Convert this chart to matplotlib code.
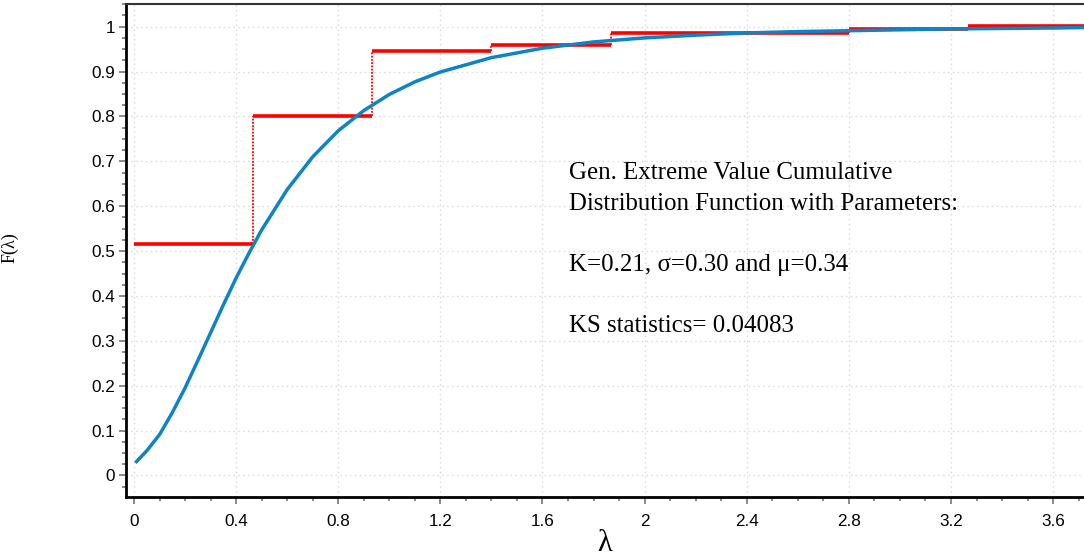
import matplotlib
matplotlib.use("Agg")
import matplotlib.pyplot as plt
from matplotlib.ticker import MultipleLocator, FuncFormatter

# histogram-style empirical CDF (red steps)
bin_edges = [0.0, 0.467, 0.933, 1.400, 1.867, 2.333, 2.800, 3.267, 3.733]
emp_cdf = [0.515, 0.800, 0.945, 0.960, 0.986, 0.985, 0.994, 1.001]

# fitted GEV CDF (blue)
lam = [0.01, 0.05, 0.10, 0.15, 0.20, 0.25, 0.30, 0.35, 0.40, 0.45, 0.50,
       0.60, 0.70, 0.80, 0.90, 1.00, 1.10, 1.20, 1.40, 1.60, 1.80, 2.00,
       2.20, 2.40, 2.60, 2.80, 3.00, 3.20, 3.40, 3.60, 3.72]
gev_cdf = [0.031, 0.055, 0.091, 0.140, 0.195, 0.256, 0.318, 0.380, 0.440,
           0.495, 0.547, 0.637, 0.710, 0.768, 0.813, 0.849, 0.877, 0.899,
           0.931, 0.952, 0.966, 0.975, 0.981, 0.986, 0.989, 0.991, 0.993,
           0.995, 0.996, 0.997, 0.998]

fig = plt.figure(figsize=(10.84, 5.6), dpi=100)
ax = fig.add_axes([126 / 1084, 1 - 497 / 560, 1 - 126 / 1084, 493 / 560])

ax.grid(True, which="major", color="#d8d8d8", linestyle=(0, (1, 2.5)), linewidth=1)
ax.set_axisbelow(True)

# red steps: thick horizontals, dotted verticals
ax.hlines(emp_cdf, bin_edges[:-1], bin_edges[1:], colors="#ff0000", linewidth=2.6, zorder=3)
ax.vlines(bin_edges[1:-1], emp_cdf[:-1], emp_cdf[1:], colors="#ff0000",
          linestyles=(0, (1, 0.8)), linewidth=1.3, zorder=3)

ax.plot(lam, gev_cdf, color="#0e84c4", linewidth=2.5, zorder=4)

ax.set_xlim(-0.0313, 3.721)
ax.set_ylim(-0.048, 1.0505)

ax.xaxis.set_major_locator(MultipleLocator(0.4))
ax.xaxis.set_minor_locator(MultipleLocator(0.1))
ax.yaxis.set_major_locator(MultipleLocator(0.1))
ax.yaxis.set_minor_locator(MultipleLocator(0.025))

fmt = FuncFormatter(lambda v, p: ("%.1f" % v).rstrip("0").rstrip(".") if abs(v) > 1e-9 else "0")
ax.xaxis.set_major_formatter(fmt)
ax.yaxis.set_major_formatter(fmt)

for side in ["left", "bottom"]:
    ax.spines[side].set_linewidth(2)
    ax.spines[side].set_color("black")
ax.spines["top"].set_linewidth(1.5)
ax.spines["top"].set_color("#333333")
ax.spines["right"].set_visible(False)

ax.tick_params(which="major", direction="out", length=5, width=1.3, color="#808080",
               labelsize=12.3, labelcolor="black", pad=3)
ax.tick_params(which="minor", direction="out", length=3, width=1.3, color="#808080")
ax.tick_params(axis="x", which="major", pad=7)
for t in ax.get_xticklabels() + ax.get_yticklabels():
    t.set_fontfamily("Liberation Sans")

ax.set_xlabel("λ", fontsize=22, fontfamily="Liberation Serif", labelpad=0)
fig.text(0.009, 0.557, "F(λ)", rotation=90, fontsize=13, fontfamily="Liberation Serif",
         ha="center", va="center")

info = ("Gen. Extreme Value Cumulative\n"
        "Distribution Function with Parameters:\n\n"
        "K=0.21, σ=0.30 and μ=0.34\n\n"
        "KS statistics= 0.04083")
ax.text(1.705, 0.698, info, fontsize=17.9, fontfamily="Liberation Serif",
        va="top", ha="left", linespacing=1.505)

fig.savefig("out.png", dpi=100)
